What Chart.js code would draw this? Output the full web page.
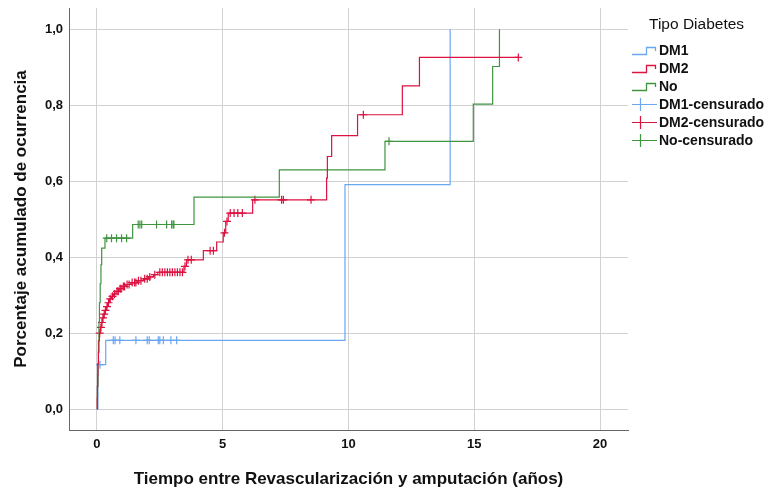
<!DOCTYPE html>
<html>
<head>
<meta charset="utf-8">
<script src="https://cdn.jsdelivr.net/npm/chart.js@4/dist/chart.umd.min.js"></script>
<style>
	body { margin: 0; background: #fff; font-family: "Liberation Sans", Arial, sans-serif; }
	#wrap { position: relative; width: 774px; height: 495px; }
	#legend { position: absolute; left: 631px; top: 15px; color: #111; }
	#legend .title { font-size: 15.5px; margin-left: 18px; margin-bottom: 8px; }
	#legend .row { display: flex; align-items: center; height: 18px; font-size: 14px; font-weight: bold; }
	#legend svg { width: 27px; height: 14px; margin-right: 1px; }
</style>
</head>
<body>
<div id="wrap">
	<canvas id="kmChart" width="774" height="495"></canvas>
	<div id="legend"></div>
</div>
<script>
/* step curves: time of each event and the cumulative value after it */
const dm1Times = [0, 0.04, 0.35, 9.86, 14.04];
const dm1Values = [0, 0.117, 0.181, 0.591, 1.0];
const dm2Times = [0, 0.01, 0.02, 0.03, 0.04, 0.06, 0.08, 0.1, 0.14, 0.18, 0.22, 0.27, 0.32, 0.37, 0.43, 0.5, 0.58, 0.66, 0.76, 0.88, 1.0, 1.15, 1.35, 1.6, 1.85, 2.05, 2.25, 2.42, 3.46, 3.56, 4.23, 4.76, 5.02, 5.12, 5.22, 6.19, 9.13, 9.16, 9.33, 10.36, 12.14, 12.82, 16.75];
const dm2Values = [0, 0.03, 0.06, 0.09, 0.12, 0.15, 0.18, 0.2, 0.215, 0.228, 0.24, 0.25, 0.26, 0.27, 0.28, 0.29, 0.297, 0.303, 0.31, 0.317, 0.323, 0.328, 0.333, 0.338, 0.343, 0.348, 0.354, 0.36, 0.376, 0.393, 0.417, 0.44, 0.464, 0.494, 0.516, 0.551, 0.608, 0.665, 0.72, 0.775, 0.851, 0.926, 0.926];
const noTimes = [0, 0.02, 0.04, 0.06, 0.08, 0.1, 0.13, 0.16, 0.19, 0.32, 1.42, 3.86, 7.25, 11.45, 14.96, 15.73, 16.0];
const noValues = [0, 0.06, 0.12, 0.18, 0.23, 0.28, 0.33, 0.38, 0.424, 0.45, 0.486, 0.558, 0.63, 0.705, 0.803, 0.902, 1.0];

/* censored cases */
const dm1CensTimes = [0.12, 0.65, 0.72, 0.91, 1.55, 2.0, 2.08, 2.44, 2.5, 2.64, 2.94, 3.17];
const dm1CensValues = [0.117, 0.181, 0.181, 0.181, 0.181, 0.181, 0.181, 0.181, 0.181, 0.181, 0.181, 0.181];
const dm2CensTimes = [0.11, 0.16, 0.2, 0.24, 0.29, 0.34, 0.4, 0.46, 0.53, 0.62, 0.7, 0.8, 0.85, 0.92, 0.96, 1.05, 1.1, 1.2, 1.28, 1.4, 1.5, 1.55, 1.65, 1.75, 1.9, 2.0, 2.1, 2.3, 2.5, 2.6, 2.7, 2.8, 2.9, 3.0, 3.1, 3.2, 3.3, 3.4, 3.5, 3.62, 3.75, 4.5, 4.63, 5.07, 5.17, 5.3, 5.45, 5.6, 5.78, 6.28, 7.34, 7.41, 8.51, 10.59, 16.75];
const dm2CensValues = [0.2, 0.215, 0.228, 0.24, 0.25, 0.26, 0.27, 0.28, 0.29, 0.297, 0.303, 0.31, 0.31, 0.317, 0.317, 0.323, 0.323, 0.328, 0.328, 0.333, 0.333, 0.333, 0.338, 0.338, 0.343, 0.343, 0.348, 0.354, 0.36, 0.36, 0.36, 0.36, 0.36, 0.36, 0.36, 0.36, 0.36, 0.36, 0.376, 0.393, 0.393, 0.417, 0.417, 0.464, 0.494, 0.516, 0.516, 0.516, 0.516, 0.551, 0.551, 0.551, 0.551, 0.775, 0.926];
const noCensTimes = [0.39, 0.58, 0.78, 0.98, 1.18, 1.64, 1.71, 1.78, 2.37, 2.77, 2.97, 3.03, 3.06, 11.61];
const noCensValues = [0.45, 0.45, 0.45, 0.45, 0.45, 0.486, 0.486, 0.486, 0.486, 0.486, 0.486, 0.486, 0.486, 0.705];

const xTicks = [0, 5, 10, 15, 20];
const yTicks = [0, 0.2, 0.4, 0.6, 0.8, 1.0];
const legendLabels = ["DM1", "DM2", "No", "DM1-censurado", "DM2-censurado", "No-censurado"];

const blue = "#6aa6f2";
const red = "#dc1240";
const green = "#3f943f";

const pairs = (xs, ys) => xs.map((x, i) => ({ x: x, y: ys[i] }));

function stepSet(label, xs, ys, color) {
	return {
		label: label,
		data: pairs(xs, ys),
		showLine: true,
		stepped: "before",
		borderColor: color,
		borderWidth: 1.2,
		pointRadius: 0,
		fill: false
	};
}

function censSet(label, xs, ys, color) {
	return {
		label: label,
		data: pairs(xs, ys),
		showLine: false,
		pointStyle: "cross",
		pointRadius: 4,
		borderColor: color,
		borderWidth: 1.2,
		backgroundColor: color
	};
}

const font = { family: "'Liberation Sans', Arial, sans-serif", weight: "bold", size: 13 };

new Chart(document.getElementById("kmChart"), {
	type: "scatter",
	data: {
		datasets: [
			stepSet(legendLabels[1], dm2Times, dm2Values, red),
			stepSet(legendLabels[2], noTimes, noValues, green),
			stepSet(legendLabels[0], dm1Times, dm1Values, blue),
			censSet(legendLabels[3], dm1CensTimes, dm1CensValues, blue),
			censSet(legendLabels[4], dm2CensTimes, dm2CensValues, red),
			censSet(legendLabels[5], noCensTimes, noCensValues, green)
		]
	},
	options: {
		responsive: false,
		animation: false,
		layout: { padding: { left: 0, right: 146, top: 8, bottom: 0 } },
		plugins: { legend: { display: false }, tooltip: { enabled: false } },
		scales: {
			x: {
				type: "linear",
				min: -1.11,
				max: 21.11,
				afterBuildTicks: scale => { scale.ticks = xTicks.map(v => ({ value: v })); },
				afterFit: scale => { scale.height = 65; },
				grid: { color: "#d2d2d2", lineWidth: 1, drawTicks: false },
				border: { color: "#666", width: 1 },
				ticks: { color: "#111", font: font, padding: 7, maxRotation: 0 },
				title: {
					display: true,
					text: "Tiempo entre Revascularización y amputación (años)",
					color: "#111",
					font: { family: font.family, weight: "bold", size: 17 },
					padding: { top: 0, bottom: 5 }
				}
			},
			y: {
				type: "linear",
				min: -0.055,
				max: 1.056,
				afterBuildTicks: scale => { scale.ticks = yTicks.map(v => ({ value: v })); },
				afterFit: scale => {
					scale.width = 69;
					scale.paddingTop = 0;
					scale.paddingBottom = 0;
				},
				grid: { color: "#d2d2d2", lineWidth: 1, drawTicks: false },
				border: { color: "#666", width: 1 },
				ticks: {
					color: "#111",
					font: font,
					padding: 6,
					callback: v => v.toFixed(1).replace(".", ",")
				},
				title: {
					display: true,
					text: "Porcentaje acumulado de ocurrencia",
					color: "#111",
					font: { family: font.family, weight: "bold", size: 17 },
					padding: { top: 11, bottom: 0 }
				}
			}
		}
	}
});

/* legend drawn as html, step icons for curves and crosses for censored */
const legend = document.getElementById("legend");
const colors = [blue, red, green, blue, red, green];
legend.innerHTML = '<div class="title">Tipo Diabetes</div>' + legendLabels.map((label, i) => {
	const icon = i < 3
		? `<path d="M1 11.5 H15.5 V4.5 H24.5 V8" fill="none" stroke="${colors[i]}" stroke-width="1.3"/>`
		: `<path d="M1 7.5 H26 M9.5 1 V14" fill="none" stroke="${colors[i]}" stroke-width="1.2"/>`;
	return `<div class="row"><svg viewBox="0 0 27 14">${icon}</svg>${label}</div>`;
}).join("");
</script>
</body>
</html>
